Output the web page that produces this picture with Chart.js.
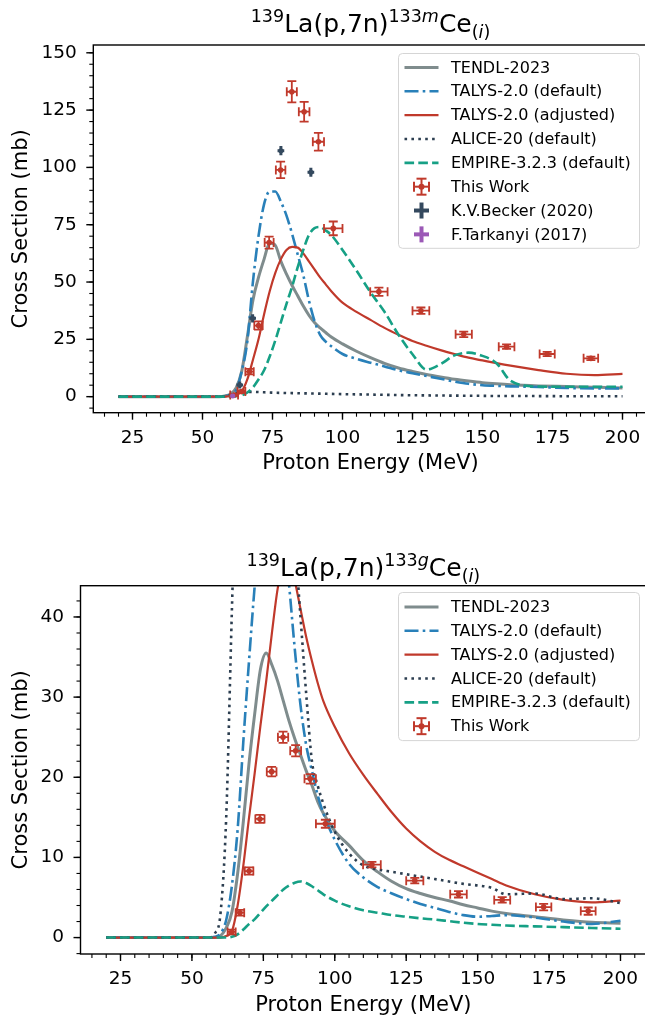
<!DOCTYPE html>
<html>
<head>
<meta charset="utf-8">
<script src="https://cdn.jsdelivr.net/npm/chart.js@4.4.1/dist/chart.umd.min.js"></script>
<style>
  html, body { margin: 0; padding: 0; background: #fff; overflow: hidden; width: 645px; height: 1015px; }
  #wrap { position: relative; width: 645px; height: 1015px; overflow: hidden; }
  canvas { position: absolute; left: 0; }
  #cMeta { top: 0; }
  #cGround { top: 490px; }
</style>
</head>
<body>
<div id="wrap">
  <canvas id="cMeta" width="660" height="490"></canvas>
  <canvas id="cGround" width="660" height="545"></canvas>
</div>
<script>
// ---- model calculations: energy grid (MeV) and cross sections (mb) ----
const E_GRID = [20, 50, 56, 58, 60, 62, 64, 66, 68, 70, 72, 74, 76, 78, 80, 82, 84, 86, 88, 90,
                92, 94, 96, 100, 105, 110, 115, 120, 125, 130, 135, 140, 145, 150, 155, 160, 170, 180, 190, 200];

// 133mCe (metastable)
const M_TENDL     = [0, 0, 0, 0.3, 1.2, 3.8, 11, 26, 42, 52, 60, 67, 66, 59, 53.5, 48.5, 44, 39.5, 35.5, 32.3,
                     30, 28, 26, 23, 19.8, 17, 14.5, 12.5, 11, 9.7, 8.6, 7.6, 6.8, 6.1, 5.6, 5.2, 4.7, 4.4, 4.1, 3.8];
const M_TALYS_DEF = [0, 0, 0, 0.2, 0.8, 2.8, 11, 24, 50, 70, 84, 89.5, 89.5, 85, 79, 71, 62, 53, 42, 33,
                     27, 24, 22, 18.6, 16.5, 14.8, 13.2, 11.5, 10.2, 9, 7.8, 6.6, 5.6, 5, 4.7, 4.5, 4.2, 3.8, 3.6, 3.6];
const M_TALYS_ADJ = [0, 0, 0, 0, 0.2, 0.8, 2.3, 7.5, 16, 25, 36, 46, 54, 60, 64, 65.3, 65, 62.5, 59, 55.5,
                     52, 49, 46, 41, 37, 33.5, 30, 27, 24.3, 22.2, 20.3, 18.6, 17, 15.8, 14.6, 13.5, 11.6, 10, 9.4, 9.9];
const M_ALICE     = [0, 0, 0, 0.2, 0.8, 1.5, 2, 2.1, 2.1, 2, 1.9, 1.8, 1.7, 1.65, 1.6, 1.55, 1.5, 1.45, 1.4, 1.35,
                     1.3, 1.25, 1.2, 1.1, 1, 0.9, 0.8, 0.7, 0.6, 0.55, 0.5, 0.45, 0.4, 0.35, 0.3, 0.3, 0.25, 0.2, 0.2, 0.15];
const M_EMPIRE    = [0, 0, 0, 0, 0, 0.2, 0.6, 1.8, 4, 7.5, 11.5, 17.5, 24.5, 32.5, 40.5, 48, 56.5, 64, 70.5, 73.5,
                     74, 72.5, 70.5, 64, 55, 45.5, 37, 27, 18.5, 11.8, 14.2, 18, 19.2, 17.8, 14.6, 7, 4.4, 4.3, 4.3, 4.3];

// 133gCe (ground state)
const G_TENDL     = [0, 0, 0, 0, 0.2, 1.2, 3.2, 8, 14.5, 21.8, 28, 33.5, 35.5, 34, 32, 29.5, 27, 24.8, 22.8, 20.8,
                     19, 17, 15.5, 13.3, 11.5, 9.6, 8.2, 7, 6.1, 5.5, 5, 4.6, 4.1, 3.7, 3.3, 3.0, 2.6, 2.2, 1.9, 1.8];
const G_TALYS_DEF = [0, 0, 0, 0.1, 0.5, 2.2, 6.5, 13.5, 24.5, 34.6, 44, 52, 57, 59, 57, 51, 44, 36, 29, 24,
                     20.8, 17.8, 15.5, 12.2, 9.2, 7.5, 6.3, 5.5, 4.8, 4.2, 3.7, 3.2, 2.8, 2.6, 2.7, 2.8, 2.5, 2.0, 1.7, 2.1];
const G_TALYS_ADJ = [0, 0, 0, 0, 0, 0.2, 0.8, 4, 9, 15, 20.6, 26.5, 32, 38, 43.5, 46.5, 47, 44.5, 41, 37.5,
                     34.5, 31.8, 29.5, 26.3, 23, 20.3, 17.9, 15.6, 13.6, 12, 10.7, 9.7, 8.9, 8.1, 7.3, 6.5, 5.4, 4.7, 4.4, 4.6];
const G_ALICE     = [0, 0, 0, 0.5, 3, 15, 41, 65, 80, 88, 92, 93, 92, 88, 80, 70, 60, 50, 40, 30.4,
                     22, 19, 16.7, 13.2, 10.5, 9.0, 8.5, 8.2, 7.9, 7.6, 7.3, 7.0, 6.7, 6.5, 6.2, 5.4, 5.5, 4.8, 4.9, 4.3];
const G_EMPIRE    = [0, 0, 0, 0, 0, 0, 0.1, 0.4, 1, 1.7, 2.3, 3.1, 3.9, 4.6, 5.3, 6, 6.5, 6.85, 7, 6.8,
                     6.4, 5.9, 5.4, 4.6, 3.9, 3.4, 3.1, 2.8, 2.6, 2.4, 2.25, 2.05, 1.85, 1.7, 1.6, 1.5, 1.4, 1.3, 1.2, 1.1];

// ---- measurements ----
const EXP_E     = [61.3, 63.9, 66.8, 70.0, 73.8, 77.9, 81.9, 86.3, 91.4, 96.7, 113.0, 128.0, 143.3, 158.6, 173.1, 188.7];
const EXP_E_ERR = [1.4, 1.4, 1.5, 1.5, 1.6, 1.7, 1.8, 1.9, 2.0, 3.3, 3.1, 3.0, 2.9, 2.8, 2.7, 2.6];
const M_EXP     = [0.7, 2.2, 10.9, 31.0, 67.2, 98.9, 133.0, 124.3, 111.2, 73.4, 45.8, 37.5, 27.2, 21.8, 18.6, 16.7];
const M_EXP_ERR = [0.3, 0.5, 1.2, 1.8, 2.6, 3.6, 4.6, 4.3, 3.9, 3.0, 1.8, 1.4, 1.2, 1.0, 0.9, 0.8];
const G_EXP     = [null, 0.7, 3.1, 8.3, 14.8, 20.7, 25.0, 23.3, 19.8, 14.2, 9.1, 7.1, 5.4, 4.7, 3.8, 3.3];
const G_EXP_ERR = [null, 0.3, 0.35, 0.45, 0.5, 0.6, 0.7, 0.7, 0.6, 0.5, 0.35, 0.35, 0.4, 0.35, 0.4, 0.45];

const BECKER_E     = [63.3, 67.9, 78.0, 88.7];
const BECKER_E_ERR = [1.2, 1.2, 1.2, 1.2];
const BECKER_M     = [5.1, 34.2, 107.3, 97.9];
const BECKER_M_ERR = [1.5, 1.8, 2.0, 2.0];

const TARK_E     = [60.8];
const TARK_E_ERR = [0.8];
const TARK_M     = [0.3];
const TARK_M_ERR = [0.3];

// ---- axes ----
const X_TICKS   = [25, 50, 75, 100, 125, 150, 175, 200];
const M_Y_TICKS = [0, 25, 50, 75, 100, 125, 150];
const G_Y_TICKS = [0, 10, 20, 30, 40];

const LABELS = {
  tendl: 'TENDL-2023',
  talysDef: 'TALYS-2.0 (default)',
  talysAdj: 'TALYS-2.0 (adjusted)',
  alice: 'ALICE-20 (default)',
  empire: 'EMPIRE-3.2.3 (default)',
  exp: 'This Work',
  becker: 'K.V.Becker (2020)',
  tark: 'F.Tarkanyi (2017)'
};

const COL = {
  tendl: '#7f8c8d', talysDef: '#2980b9', talysAdj: '#c0392b', alice: '#2c3e50',
  empire: '#16a085', exp: '#c0392b', becker: '#34495e', tark: '#9b59b6'
};

const FONT = 'DejaVu Sans';
Chart.defaults.font.family = FONT;
Chart.defaults.color = '#000';

const zip = (xs, ys) => xs.map((x, i) => ({ x: x, y: ys[i] }));

function curve(label, values, color, width, dash) {
  return {
    label: label, data: zip(E_GRID, values), borderColor: color, backgroundColor: color,
    borderWidth: width, borderDash: dash, pointRadius: 0, fill: false,
    cubicInterpolationMode: 'monotone', legendKind: 'line'
  };
}

function points(label, xs, xerr, ys, yerr, color, radius, errWidth, cap, kind) {
  return {
    label: label, data: zip(xs, ys), showLine: false, borderColor: color, backgroundColor: color,
    pointRadius: radius, pointBorderWidth: 0, errX: xerr, errY: yerr, errWidth: errWidth,
    capSize: cap, legendKind: kind
  };
}

// error bars drawn underneath each marker set
const errorBars = {
  id: 'errorBars',
  beforeDatasetDraw(chart, args) {
    const ds = chart.data.datasets[args.index];
    if (!ds.errX && !ds.errY) return;
    const { ctx, chartArea: a } = chart;
    const sx = chart.scales.x, sy = chart.scales.y;
    ctx.save();
    ctx.beginPath();
    ctx.rect(a.left, a.top, a.right - a.left, a.bottom - a.top);
    ctx.clip();
    ctx.strokeStyle = ds.borderColor;
    ctx.lineWidth = ds.errWidth;
    const seg = (x0, y0, x1, y1) => { ctx.beginPath(); ctx.moveTo(x0, y0); ctx.lineTo(x1, y1); ctx.stroke(); };
    ds.data.forEach((p, i) => {
      if (p.y === null || p.y === undefined) return;
      const px = sx.getPixelForValue(p.x), py = sy.getPixelForValue(p.y);
      const ex = ds.errX ? ds.errX[i] : 0, ey = ds.errY ? ds.errY[i] : 0;
      const x0 = sx.getPixelForValue(p.x - ex), x1 = sx.getPixelForValue(p.x + ex);
      const y0 = sy.getPixelForValue(p.y - ey), y1 = sy.getPixelForValue(p.y + ey);
      const c = ds.capSize;
      seg(x0, py, x1, py);
      seg(px, y0, px, y1);
      if (c > 0) {
        seg(x0, py - c, x0, py + c); seg(x1, py - c, x1, py + c);
        seg(px - c, y0, px + c, y0); seg(px - c, y1, px + c, y1);
      }
    });
    ctx.restore();
  }
};

// axes frame with outward major and minor ticks
const frameTicks = {
  id: 'frameTicks',
  afterDatasetsDraw(chart, args, o) {
    const { ctx, chartArea: a } = chart;
    const sx = chart.scales.x, sy = chart.scales.y;
    ctx.save();
    ctx.strokeStyle = '#000';
    const tickRun = (scale, step, len, width, horizontal) => {
      ctx.lineWidth = width;
      const start = Math.ceil(scale.min / step - 1e-9) * step;
      for (let v = start; v <= scale.max + 1e-9; v += step) {
        const p = scale.getPixelForValue(v);
        ctx.beginPath();
        if (horizontal) { ctx.moveTo(p, a.bottom); ctx.lineTo(p, a.bottom + len); }
        else { ctx.moveTo(a.left, p); ctx.lineTo(a.left - len, p); }
        ctx.stroke();
      }
    };
    tickRun(sx, o.xMinor, 4, 1.1, true);
    tickRun(sx, o.xMajor, 7, 1.4, true);
    tickRun(sy, o.yMinor, 4, 1.1, false);
    tickRun(sy, o.yMajor, 7, 1.4, false);
    ctx.lineWidth = 1.4;
    ctx.strokeRect(a.left, a.top, a.right - a.left, a.bottom - a.top);
    ctx.restore();
  }
};

// title with isotope superscripts and subscript
const richTitle = {
  id: 'richTitle',
  afterDraw(chart, args, o) {
    const { ctx, chartArea: a } = chart;
    const size = o.size, small = size * 0.7;
    const fontFor = p => (p.it ? 'italic ' : '') + (p.s ? small : size) + 'px "' + FONT + '"';
    let total = 0;
    o.parts.forEach(p => { ctx.font = fontFor(p); p.w = ctx.measureText(p.t).width; total += p.w; });
    let x = (a.left + a.right) / 2 - total / 2;
    ctx.save();
    ctx.fillStyle = '#000';
    ctx.textBaseline = 'alphabetic';
    ctx.textAlign = 'left';
    o.parts.forEach(p => {
      ctx.font = fontFor(p);
      const dy = p.s === 'sup' ? -size * 0.42 : (p.s === 'sub' ? size * 0.22 : 0);
      ctx.fillText(p.t, x, o.baseline + dy);
      x += p.w;
    });
    ctx.restore();
  }
};

// boxed legend in the upper right of the plotting area
const boxLegend = {
  id: 'boxLegend',
  afterDraw(chart, args, o) {
    const { ctx } = chart;
    const sets = chart.data.datasets;
    ctx.save();
    const r = 4, bx = o.x, by = o.y, bw = o.w, bh = o.rowH * sets.length + o.padY * 2;
    ctx.beginPath();
    ctx.moveTo(bx + r, by);
    ctx.arcTo(bx + bw, by, bx + bw, by + bh, r);
    ctx.arcTo(bx + bw, by + bh, bx, by + bh, r);
    ctx.arcTo(bx, by + bh, bx, by, r);
    ctx.arcTo(bx, by, bx + bw, by, r);
    ctx.closePath();
    ctx.fillStyle = 'rgba(255,255,255,0.8)';
    ctx.fill();
    ctx.strokeStyle = '#d5d5d5';
    ctx.lineWidth = 1;
    ctx.stroke();
    const hx0 = bx + o.handleX, hx1 = hx0 + o.handleW, hc = (hx0 + hx1) / 2;
    sets.forEach((ds, i) => {
      const cy = by + o.padY + o.rowH * (i + 0.5);
      ctx.strokeStyle = ds.borderColor;
      ctx.fillStyle = ds.borderColor;
      if (ds.legendKind === 'line') {
        ctx.lineWidth = ds.borderWidth;
        ctx.setLineDash(ds.borderDash || []);
        ctx.beginPath(); ctx.moveTo(hx0, cy); ctx.lineTo(hx1, cy); ctx.stroke();
        ctx.setLineDash([]);
      } else {
        const seg = (x0, y0, x1, y1) => { ctx.beginPath(); ctx.moveTo(x0, y0); ctx.lineTo(x1, y1); ctx.stroke(); };
        const hw = 7.5, hh = 8;
        if (ds.legendKind === 'err') {
          ctx.lineWidth = 2;
          seg(hc - hw, cy, hc + hw, cy); seg(hc, cy - hh, hc, cy + hh);
          seg(hc - hw, cy - 5, hc - hw, cy + 5); seg(hc + hw, cy - 5, hc + hw, cy + 5);
          seg(hc - 5, cy - hh, hc + 5, cy - hh); seg(hc - 5, cy + hh, hc + 5, cy + hh);
          ctx.beginPath(); ctx.arc(hc, cy, 3, 0, Math.PI * 2); ctx.fill();
        } else {
          ctx.lineWidth = 4;
          seg(hc - hw, cy, hc + hw, cy); seg(hc, cy - hh, hc, cy + hh);
        }
      }
      ctx.fillStyle = '#000';
      ctx.font = o.fontSize + 'px "' + FONT + '"';
      ctx.textBaseline = 'middle';
      ctx.textAlign = 'left';
      ctx.fillText(ds.label, bx + o.textX, cy + 1);
    });
    ctx.restore();
  }
};

function buildChart(canvasId, cfg) {
  const datasets = cfg.datasets;
  datasets.forEach((d, i) => { d.order = 20 - i; });
  return new Chart(document.getElementById(canvasId), {
    type: 'line',
    data: { datasets: datasets },
    plugins: [errorBars, frameTicks, richTitle, boxLegend],
    options: {
      responsive: false,
      animation: false,
      events: [],
      parsing: true,
      layout: { padding: { left: 0, top: cfg.padTop, right: cfg.padRight, bottom: 0 } },
      plugins: {
        legend: { display: false },
        tooltip: { enabled: false },
        title: { display: false },
        frameTicks: { xMinor: 5, xMajor: 25, yMinor: cfg.yMinor, yMajor: cfg.yMajor },
        richTitle: { parts: cfg.titleParts, size: 25, baseline: cfg.titleBaseline },
        boxLegend: cfg.legend
      },
      scales: {
        x: {
          type: 'linear', min: 11, max: 209,
          grid: { display: false, drawTicks: false },
          border: { display: false },
          afterBuildTicks: s => { s.ticks = X_TICKS.map(v => ({ value: v })); },
          afterFit: s => { s.height = cfg.xAxisH; },
          ticks: { autoSkip: false, maxRotation: 0, minRotation: 0, padding: 14, color: '#000',
                   font: { family: FONT, size: 18.5 }, callback: v => String(v) },
          title: { display: true, text: 'Proton Energy (MeV)', color: '#000',
                   font: { family: FONT, size: 21 }, padding: { top: 0, bottom: cfg.xTitlePad } }
        },
        y: {
          type: 'linear', min: cfg.yMin, max: cfg.yMax,
          grid: { display: false, drawTicks: false },
          border: { display: false },
          afterBuildTicks: s => { s.ticks = cfg.yTicks.map(v => ({ value: v })); },
          afterFit: s => { s.width = cfg.yAxisW; },
          ticks: { autoSkip: false, padding: 16.5, color: '#000',
                   font: { family: FONT, size: 18.5 }, callback: v => String(v) },
          title: { display: true, text: 'Cross Section (mb)', color: '#000',
                   font: { family: FONT, size: 21 }, padding: { top: 9.4, bottom: 0 } }
        }
      }
    }
  });
}

const DASH_DOT = [14, 4.2, 2.6, 4.2];
const DOTTED = [2.6, 4.3];
const DASHED = [9.6, 4.2];

buildChart('cMeta', {
  padTop: 45, padRight: 12.3, xAxisH: 77.3, yAxisW: 93.3, xTitlePad: 13.4,
  yMin: -7, yMax: 153.4, yTicks: M_Y_TICKS, yMinor: 5, yMajor: 25,
  titleBaseline: 32,
  titleParts: [{ t: '139', s: 'sup' }, { t: 'La(p,7n)' }, { t: '133', s: 'sup' }, { t: 'm', s: 'sup', it: true },
               { t: 'Ce' }, { t: '(', s: 'sub' }, { t: 'i', s: 'sub', it: true }, { t: ')', s: 'sub' }],
  legend: { x: 398.5, y: 53.5, w: 241, rowH: 23.85, padY: 2, handleX: 6, handleW: 34, textX: 52.5, fontSize: 16 },
  datasets: [
    curve(LABELS.tendl, M_TENDL, COL.tendl, 3, []),
    curve(LABELS.talysDef, M_TALYS_DEF, COL.talysDef, 2.6, DASH_DOT),
    curve(LABELS.talysAdj, M_TALYS_ADJ, COL.talysAdj, 2.2, []),
    curve(LABELS.alice, M_ALICE, COL.alice, 2.6, DOTTED),
    curve(LABELS.empire, M_EMPIRE, COL.empire, 2.6, DASHED),
    points(LABELS.exp, EXP_E, EXP_E_ERR, M_EXP, M_EXP_ERR, COL.exp, 2.8, 1.8, 4.5, 'err'),
    points(LABELS.becker, BECKER_E, BECKER_E_ERR, BECKER_M, BECKER_M_ERR, COL.becker, 2.5, 3, 0, 'cross'),
    points(LABELS.tark, TARK_E, TARK_E_ERR, TARK_M, TARK_M_ERR, COL.tark, 2.5, 3, 0, 'cross')
  ]
});

buildChart('cGround', {
  padTop: 95.7, padRight: 13.8, xAxisH: 81, yAxisW: 80.5, xTitlePad: 17.1,
  yMin: -2.05, yMax: 43.9, yTicks: G_Y_TICKS, yMinor: 2, yMajor: 10,
  titleBaseline: 86,
  titleParts: [{ t: '139', s: 'sup' }, { t: 'La(p,7n)' }, { t: '133', s: 'sup' }, { t: 'g', s: 'sup', it: true },
               { t: 'Ce' }, { t: '(', s: 'sub' }, { t: 'i', s: 'sub', it: true }, { t: ')', s: 'sub' }],
  legend: { x: 398.5, y: 102.5, w: 241, rowH: 23.85, padY: 2.5, handleX: 6, handleW: 34, textX: 52.5, fontSize: 16 },
  datasets: [
    curve(LABELS.tendl, G_TENDL, COL.tendl, 3, []),
    curve(LABELS.talysDef, G_TALYS_DEF, COL.talysDef, 2.6, DASH_DOT),
    curve(LABELS.talysAdj, G_TALYS_ADJ, COL.talysAdj, 2.2, []),
    curve(LABELS.alice, G_ALICE, COL.alice, 2.6, DOTTED),
    curve(LABELS.empire, G_EMPIRE, COL.empire, 2.6, DASHED),
    points(LABELS.exp, EXP_E, EXP_E_ERR, G_EXP, G_EXP_ERR, COL.exp, 2.8, 1.8, 4.5, 'err')
  ]
});
</script>
</body>
</html>
